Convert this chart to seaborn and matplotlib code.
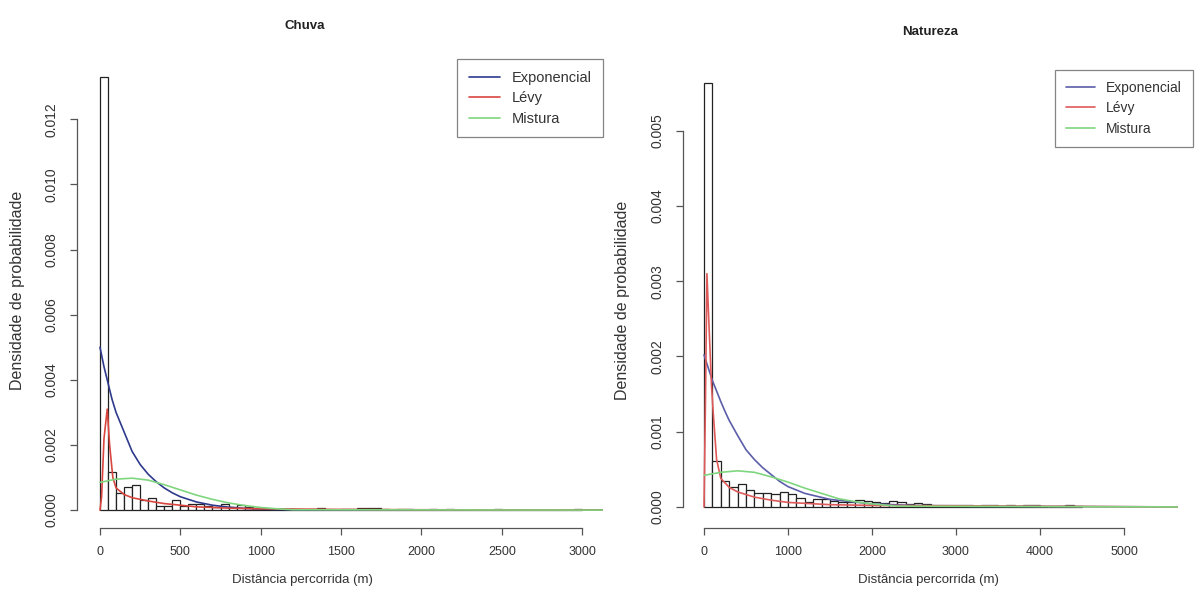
import numpy as np
import pandas as pd
import matplotlib
matplotlib.use('Agg')
import matplotlib.pyplot as plt
import seaborn as sns

# ---- Chuva: histograma (classes de 50 m), densidades
chuva_bin = 50
chuva_dens = [0.0133, 0.00117, 0.00054, 0.00071, 0.00077, 0.00031, 0.00036, 0.00012, 0.00012, 0.00031,
              0.00013, 0.00020, 0.00018, 0.00012, 0.00008, 0.00020, 0.00008, 0.00016, 0.00008, 0.00006,
              0.00006, 0.00004, 0.00003, 0.00003, 0.0, 0.0, 0.00003, 0.00006, 0.0, 0.0,
              0.00004, 0.00003, 0.00006, 0.00006, 0.00006, 0.00003, 0.0, 0.00003, 0.00003, 0.0,
              0.0, 0.00003, 0.0, 0.00003, 0.0, 0.0, 0.0, 0.0, 0.0, 0.00003,
              0.0, 0.0, 0.0, 0.0, 0.0, 0.0, 0.0, 0.0, 0.0, 0.00003]

# ---- Natureza: histograma (classes de 100 m)
nat_bin = 100
nat_dens = [0.00564, 0.00061, 0.00035, 0.00027, 0.00030, 0.00023, 0.00019, 0.00018, 0.00017, 0.00020,
            0.00017, 0.00012, 0.00007, 0.00010, 0.00011, 0.00008, 0.00006, 0.00006, 0.00009, 0.00008,
            0.00006, 0.00005, 0.00008, 0.00007, 0.00004, 0.00005, 0.00004, 0.00002, 0.00003, 0.00002,
            0.00002, 0.00003, 0.0, 0.00002, 0.00002, 0.0, 0.00002, 0.00001, 0.00002, 0.00002,
            0.0, 0.0, 0.00001, 0.00002, 0.00001]

# ---- curvas ajustadas
chuva_exp_x = [0, 25, 50, 75, 100, 125, 150, 175, 200, 250, 300, 350, 400, 450, 500, 600, 700, 800,
               900, 1000, 1200, 1500, 2000, 3130]
chuva_exp_y = [0.0050, 0.0044, 0.0039, 0.0034, 0.0030, 0.0027, 0.0024, 0.0021, 0.0018, 0.0014,
               0.0011, 0.00087, 0.00068, 0.00053, 0.00041, 0.00025, 0.00015, 0.00009, 0.00005,
               0.00003, 0.00001, 0.0, 0.0, 0.0]
chuva_levy_x = [0, 10, 25, 45, 60, 80, 100, 150, 200, 300, 400, 600, 800, 1000, 1500, 2000, 3130]
chuva_levy_y = [0.0, 0.0004, 0.0022, 0.0031, 0.0020, 0.0010, 0.00068, 0.00048, 0.00038, 0.00028,
                0.0002, 0.0001, 0.00006, 0.00004, 0.00002, 0.00001, 0.0]
chuva_mist_x = [0, 100, 200, 300, 400, 500, 600, 700, 800, 900, 1000, 1100, 1200, 3130]
chuva_mist_y = [0.00085, 0.00095, 0.00098, 0.00092, 0.00078, 0.00062, 0.00046, 0.00033, 0.00022,
                0.00014, 0.00008, 0.00004, 0.00001, 0.0]

nat_exp_x = [0, 50, 100, 150, 200, 250, 300, 400, 500, 600, 700, 800, 900, 1000, 1200, 1500, 2000,
             2500, 3000, 5650]
nat_exp_y = [0.00202, 0.00185, 0.00168, 0.00154, 0.0014, 0.00127, 0.00115, 0.00095, 0.00076,
             0.00063, 0.00052, 0.00043, 0.00034, 0.00027, 0.00018, 0.0001, 0.00004, 0.00002,
             0.00001, 0.0]
nat_levy_x = [0, 15, 35, 60, 90, 110, 150, 200, 300, 400, 600, 800, 1000, 1500, 2000, 5650]
nat_levy_y = [0.0, 0.0012, 0.0031, 0.0024, 0.0016, 0.00125, 0.00063, 0.00038, 0.00026, 0.0002,
              0.00013, 0.00009, 0.00006, 0.00003, 0.00002, 0.0]
nat_mist_x = [0, 200, 400, 600, 800, 1000, 1200, 1400, 1600, 1800, 2000, 2300, 5650]
nat_mist_y = [0.00042, 0.00046, 0.00048, 0.00046, 0.0004, 0.00033, 0.00025, 0.00018, 0.00011,
              0.00007, 0.00004, 0.00001, 0.0]

labels = ['Exponencial', 'Lévy', 'Mistura']

sns.set_style('white')
plt.rcParams['font.family'] = ['Liberation Sans', 'DejaVu Sans']
txt = '#333333'

fig = plt.figure(figsize=(11.95, 5.99), dpi=100)
W, H = 1195.0, 599.0


def ax_at(x0, y0, x1, y1):
    return fig.add_axes([x0 / W, 1 - y1 / H, (x1 - x0) / W, (y1 - y0) / H])


def painel(ax, dens, binw, curvas, cores, xlim, ylim, xticks, yticks):
    n = len(dens)
    df = pd.DataFrame({'dist': np.arange(n) * binw + binw / 2, 'dens': dens})
    sns.histplot(data=df, x='dist', weights='dens', binwidth=binw, binrange=(0, n * binw),
                 stat='count', ax=ax, color='white', edgecolor='#222222', linewidth=0.9, alpha=1)
    for (cx, cy), c, lab in zip(curvas, cores, labels):
        sns.lineplot(x=cx, y=cy, ax=ax, color=c, linewidth=1.2, label=lab, estimator=None)
    ax.set_xlim(*xlim)
    ax.set_ylim(*ylim)
    ax.set_xticks(xticks)
    ax.set_xticklabels([str(t) for t in xticks])
    ax.set_yticks(yticks)
    ax.set_yticklabels(['%.3f' % t for t in yticks], rotation=90, va='center', fontsize=10)
    for s in ['top', 'right']:
        ax.spines[s].set_visible(False)
    ax.spines['left'].set_bounds(yticks[0], yticks[-1])
    ax.spines['bottom'].set_bounds(xticks[0], xticks[-1])
    for s in ['left', 'bottom']:
        ax.spines[s].set_color('#555555')
        ax.spines[s].set_linewidth(0.9)
    ax.tick_params(axis='both', which='major', direction='out', length=5, width=0.9,
                   color='#555555', labelcolor=txt, left=True, bottom=True)
    ax.tick_params(axis='x', pad=8, labelsize=9)
    ax.tick_params(axis='y', pad=8)
    ax.set_xlabel('')
    ax.set_ylabel('')


def legenda(ax, x_right, y_top, fs):
    leg = ax.legend(loc='upper right', bbox_to_anchor=(x_right / W, 1 - y_top / H),
                    bbox_transform=fig.transFigure, fontsize=fs, frameon=True, fancybox=False,
                    handlelength=2.1, handletextpad=0.8, labelspacing=0.45, borderpad=0.8,
                    borderaxespad=0)
    leg.get_frame().set_edgecolor('#666666')
    leg.get_frame().set_linewidth(0.9)
    for t in leg.get_texts():
        t.set_color(txt)
    return leg


# ---- Chuva
ax1 = ax_at(77, 60, 603, 528)
painel(ax1, chuva_dens, chuva_bin,
       [(chuva_exp_x, chuva_exp_y), (chuva_levy_x, chuva_levy_y), (chuva_mist_x, chuva_mist_y)],
       ['#2e3a8c', '#d9463f', '#7fd67f'],
       (-143, 3130), (-0.00055, 0.01382),
       [0, 500, 1000, 1500, 2000, 2500, 3000], list(np.arange(0, 0.0121, 0.002)))
legenda(ax1, 603, 59, 10.5)

# ---- Natureza
ax2 = ax_at(683, 66, 1178, 528)
painel(ax2, nat_dens, nat_bin,
       [(nat_exp_x, nat_exp_y), (nat_levy_x, nat_levy_y), (nat_mist_x, nat_mist_y)],
       ['#5b5ea8', '#de5a5a', '#7fd67f'],
       (-250, 5643), (-0.00028, 0.00586),
       [0, 1000, 2000, 3000, 4000, 5000], list(np.arange(0, 0.00501, 0.001)))
legenda(ax2, 1193, 70, 10)

# ---- textos
fig.text(305 / W, 1 - 26 / H, 'Chuva', ha='center', va='center', fontsize=9.5,
         fontweight='bold', color='#222222')
fig.text(930 / W, 1 - 32 / H, 'Natureza', ha='center', va='center', fontsize=9.5,
         fontweight='bold', color='#222222')
fig.text(302 / W, 1 - 580 / H, 'Distância percorrida (m)', ha='center', va='center',
         fontsize=9.5, color=txt)
fig.text(928 / W, 1 - 580 / H, 'Distância percorrida (m)', ha='center', va='center',
         fontsize=9.5, color=txt)
fig.text(18 / W, 1 - 290 / H, 'Densidade de probabilidade', ha='center', va='center',
         rotation=90, fontsize=11.5, color=txt)
fig.text(622 / W, 1 - 300 / H, 'Densidade de probabilidade', ha='center', va='center',
         rotation=90, fontsize=11.5, color=txt)

fig.savefig('out.png', dpi=100, facecolor='white')
